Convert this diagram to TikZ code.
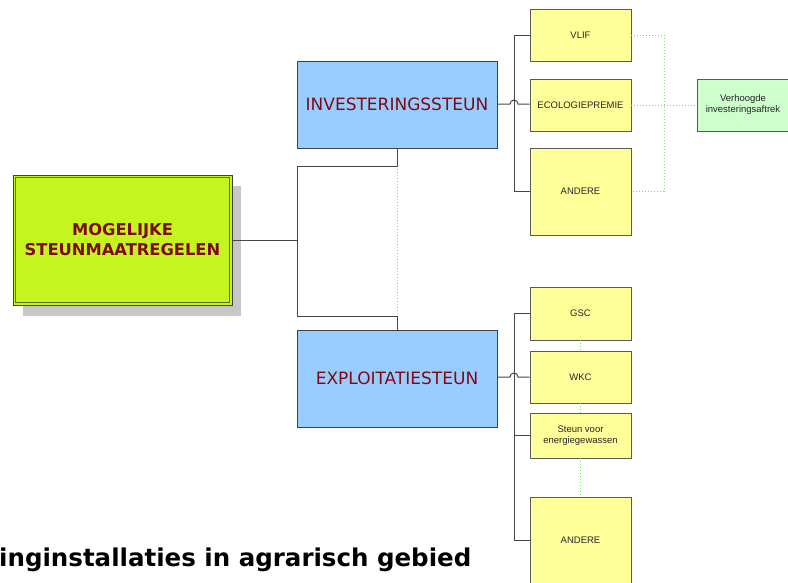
\documentclass[tikz,border=0pt]{standalone}
\usepackage{fontspec}
\setmainfont{Liberation Sans}
\newfontfamily\verd{DejaVu Sans}
\definecolor{limeg}{RGB}{197,245,30}
\definecolor{bluef}{RGB}{153,204,255}
\definecolor{yelf}{RGB}{255,255,153}
\definecolor{lgreen}{RGB}{204,255,204}
\definecolor{dred}{RGB}{128,10,20}
\definecolor{dotg}{RGB}{100,235,100}
\definecolor{linec}{RGB}{70,70,70}
\begin{document}
\begin{tikzpicture}[x=1pt,y=-1pt,
  conn/.style={draw=linec, line width=1pt},
  dotc/.style={draw=dotg, dotted, line width=1pt},
  ybox/.style={draw=black!65, line width=0.9pt, fill=yelf, minimum width=101pt, inner sep=0pt,
     font=\fontsize{9.5}{11}\selectfont, align=center, text=black!85},
  bbox/.style={draw=black!75, line width=0.9pt, fill=bluef, minimum width=200pt, inner sep=0pt,
     font=\verd\fontsize{17}{20}\selectfont, text=dred},
  ]
\useasboundingbox (0,0) rectangle (788,582);
% main box with shadow
\fill[black!22] (23,186) rectangle (241,316);
\node[draw=black!75, line width=1pt, fill=limeg, minimum width=219pt, minimum height=130pt, inner sep=0pt,
  font=\verd\bfseries\fontsize{16.3}{20}\selectfont, text=dred, align=center] (main) at (122.5,240)
  {MOGELIJKE\\STEUNMAATREGELEN};
\draw[draw=black!55!limeg, line width=0.8pt] ([shift={(3pt,-3pt)}]main.north west) rectangle ([shift={(-3pt,3pt)}]main.south east);

% blue boxes
\node[bbox, minimum height=87pt] (inv) at (397,104.5) {INVESTERINGSSTEUN};
\node[bbox, minimum height=97pt] (exp) at (397,378.5) {EXPLOITATIESTEUN};

% dotted between blue boxes
\draw[dotc] (inv.south) -- (exp.north);

% tree connectors
\draw[conn] (main.east) -- (297,240);
\draw[conn] (inv.south) |- (297,166) -- (297,316) -| (exp.north);

% top yellow boxes
\node[ybox, minimum height=52pt] (vlif) at (580.5,35) {VLIF};
\node[ybox, minimum height=52pt] (eco) at (580.5,105) {ECOLOGIEPREMIE};
\node[ybox, minimum height=87pt] (and1) at (580.5,191.5) {ANDERE};
\node[draw=black!65, line width=0.9pt, fill=lgreen, minimum width=92pt, minimum height=52pt, inner sep=0pt,
  font=\fontsize{9.5}{11}\selectfont, align=center, text=black!85] (verh) at (743,105)
  {Verhoogde\\investeringsaftrek};

% bottom yellow boxes
\node[ybox, minimum height=53pt] (gsc) at (580.5,313.5) {GSC};
\node[ybox, minimum height=52pt] (wkc) at (580.5,377) {WKC};
\node[ybox, minimum height=45pt] (steun) at (580.5,435.5) {Steun voor\\energiegewassen};
\node[ybox, minimum height=86pt] (and2) at (580.5,540) {ANDERE};

% dotted green lines (top)
\draw[dotc] (vlif.east) -| (664,191.5) -- (and1.east);
\draw[dotc] (eco.east) -- (verh.west);
% dotted green (bottom)
\draw[dotc] (gsc.south) -- (wkc.north);
\draw[dotc] (wkc.south) -- (steun.north);
\draw[dotc] (steun.south) -- (and2.north);

% top tree
\draw[conn] (vlif.west) -- (514,35) -- (514,191.5) -- (and1.west);
\draw[conn] (inv.east |- 0,104) -- (510,104) arc (180:0:4pt) -- (eco.west |- 0,104);
% bottom tree
\draw[conn] (gsc.west) -- (514,313.5) -- (514,540) -- (and2.west);
\draw[conn] (steun.west) -- (514,435.5);
\draw[conn] (exp.east |- 0,377) -- (510,377) arc (180:0:4pt) -- (wkc.west);

% bottom text
\node[anchor=base west, inner sep=0pt, font=\verd\bfseries\fontsize{24.5}{28}\selectfont] (title) at (-1,566)
  {inginstallaties in agrarisch gebied};
\end{tikzpicture}
\end{document}
